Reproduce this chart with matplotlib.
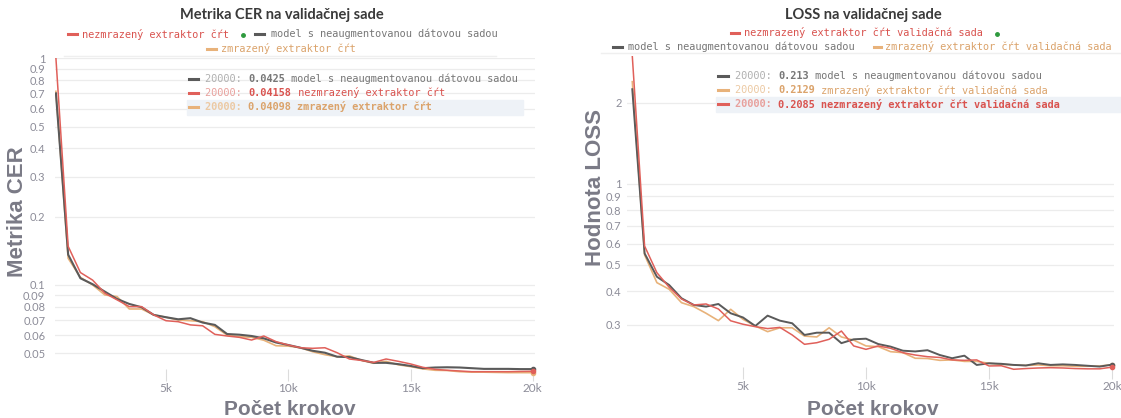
import numpy as np
import matplotlib
matplotlib.use("Agg")
import matplotlib.pyplot as plt
from matplotlib.lines import Line2D
from matplotlib.patches import Rectangle

W, H = 1121, 418

# training steps (logged every 500 steps)
steps = list(range(500, 20001, 500))

# CER on validation set
cer_red = [1.0, 0.148, 0.1134, 0.105, 0.0919, 0.0859, 0.0802, 0.0802, 0.0737, 0.0695,
           0.0688, 0.0666, 0.066, 0.0605, 0.0595, 0.0587, 0.0571, 0.0595, 0.0562, 0.0543,
           0.0528, 0.0525, 0.0528, 0.0502, 0.0471, 0.0464, 0.0455, 0.0471, 0.046, 0.0448,
           0.0433, 0.0424, 0.042, 0.0417, 0.0414, 0.0414, 0.0414, 0.0414, 0.0415, 0.04158]
cer_grey = [0.70, 0.136, 0.107, 0.1007, 0.0934, 0.0867, 0.0824, 0.0797, 0.0737, 0.072,
            0.0705, 0.0713, 0.0682, 0.0666, 0.0607, 0.0603, 0.0595, 0.0581, 0.0557, 0.0543,
            0.0528, 0.0512, 0.0502, 0.0482, 0.048, 0.0466, 0.0453, 0.0453, 0.0447, 0.0439,
            0.0429, 0.0432, 0.0433, 0.0432, 0.0429, 0.0426, 0.0426, 0.0426, 0.0425, 0.0425]
cer_orange = [0.715, 0.131, 0.108, 0.1, 0.0903, 0.0888, 0.0783, 0.0783, 0.0737, 0.072,
              0.07, 0.0695, 0.0688, 0.0654, 0.06, 0.0591, 0.0587, 0.057, 0.0539, 0.0537,
              0.0528, 0.0507, 0.0492, 0.0482, 0.0486, 0.0464, 0.0451, 0.046, 0.0444, 0.0436,
              0.0426, 0.042, 0.0419, 0.0414, 0.0412, 0.0412, 0.0411, 0.041, 0.041, 0.04098]

# LOSS on validation set
loss_red = [2.99, 0.588, 0.468, 0.413, 0.3736, 0.355, 0.358, 0.343, 0.31, 0.301,
            0.2948, 0.29, 0.293, 0.2746, 0.2535, 0.257, 0.2646, 0.284, 0.25, 0.2428,
            0.25, 0.245, 0.236, 0.2313, 0.228, 0.2265, 0.2218, 0.221, 0.2218, 0.2106,
            0.211, 0.2047, 0.206, 0.207, 0.2075, 0.207, 0.206, 0.2055, 0.2055, 0.2085]
loss_grey = [2.25, 0.552, 0.452, 0.421, 0.376, 0.355, 0.35, 0.358, 0.3306, 0.319,
             0.2965, 0.324, 0.3104, 0.3035, 0.2746, 0.28, 0.28, 0.256, 0.2646, 0.266,
             0.254, 0.2485, 0.24, 0.2385, 0.241, 0.2313, 0.225, 0.23, 0.2124, 0.2155,
             0.2145, 0.2125, 0.2115, 0.2155, 0.2125, 0.2135, 0.2125, 0.211, 0.2095, 0.213]
loss_orange = [2.4, 0.545, 0.4297, 0.406, 0.362, 0.35, 0.3306, 0.3104, 0.342, 0.314,
               0.2965, 0.2825, 0.292, 0.292, 0.272, 0.27, 0.292, 0.27, 0.2627, 0.25,
               0.2485, 0.238, 0.236, 0.225, 0.2245, 0.221, 0.2218, 0.219, 0.219, 0.2155,
               0.2135, 0.2125, 0.2115, 0.2125, 0.211, 0.211, 0.21, 0.21, 0.2105, 0.2129]

xticks = [5000, 10000, 15000, 20000]
xtick_labels = ["5k", "10k", "15k", "20k"]
cer_yticks = [0.05, 0.06, 0.07, 0.08, 0.09, 0.1, 0.2, 0.3, 0.4, 0.5, 0.6, 0.7, 0.8, 0.9, 1]
cer_ylabels = ["0.05", "0.06", "0.07", "0.08", "0.09", "0.1", "0.2", "0.3", "0.4", "0.5",
               "0.6", "0.7", "0.8", "0.9", "1"]
loss_yticks = [0.3, 0.4, 0.5, 0.6, 0.7, 0.8, 0.9, 1, 2]
loss_ylabels = ["0.3", "0.4", "0.5", "0.6", "0.7", "0.8", "0.9", "1", "2"]

RED, GREY, ORANGE = "#e0605a", "#5a5a5a", "#e8b27a"
RED_T, GREY_T, ORANGE_T = "#d9534f", "#777777", "#dba36b"
TICK_C, LABEL_C = "#8c8c98", "#7a7a86"

fig = plt.figure(figsize=(W / 100, H / 100), dpi=100)


def fx(px):
    return px / W


def fy(py):
    return 1 - py / H


def make_ax(l, t, r, b):
    ax = fig.add_axes([fx(l), fy(b), fx(r) - fx(l), fy(t) - fy(b)])
    ax.set_facecolor("none")
    return ax


def style(ax, yt, yl, ylim, xlim, pad):
    ax.set_yscale("log")
    ax.set_ylim(*ylim)
    ax.set_xlim(*xlim)
    ax.set_yticks(yt)
    ax.set_yticklabels(yl)
    ax.minorticks_off()
    ax.set_xticks(xticks)
    ax.set_xticklabels(xtick_labels)
    for s in ax.spines.values():
        s.set_visible(False)
    ax.grid(axis="y", color="#ececec", lw=0.9)
    ax.set_axisbelow(True)
    ax.tick_params(axis="y", length=0, pad=pad, labelsize=8, labelcolor=TICK_C)
    ax.tick_params(axis="x", length=8, direction="inout", color="#dcdcdc",
                   pad=2, labelsize=8.5, labelcolor=TICK_C)
    for lab in ax.get_xticklabels() + ax.get_yticklabels():
        lab.set_family("Lato")


def draw(ax, series):
    for vals, c, lw in series:
        ax.plot(steps, vals, color=c, lw=lw, solid_joinstyle="round")
        ax.plot(steps[-1], vals[-1], "o", color=c, ms=3, clip_on=False)


ax1 = make_ax(55, 58.3, 535, 375)
draw(ax1, [(cer_orange, ORANGE, 1.2), (cer_grey, GREY, 1.5), (cer_red, RED, 1.1)])
style(ax1, cer_yticks, cer_ylabels, (0.04003, 1.0), (462, 20090), 7)

ax2 = make_ax(627, 56, 1114, 373)
draw(ax2, [(loss_orange, ORANGE, 1.2), (loss_grey, GREY, 1.4), (loss_red, RED, 1.1)])
style(ax2, loss_yticks, loss_ylabels, (0.1983, 2.99), (285, 20081), 4)

# titles and axis labels
fig.text(fx(282), fy(15), "Metrika CER na validačnej sade", family="Lato", weight="bold",
         size=10.5, color="#3a3a3a", ha="center", va="center")
fig.text(fx(863), fy(15), "LOSS na validačnej sade", family="Lato", weight="bold",
         size=10.5, color="#3a3a3a", ha="center", va="center")
fig.text(fx(18), fy(212), "Metrika CER", family="Liberation Sans", weight="bold",
         size=16, color=LABEL_C, rotation=90, ha="center", va="center")
fig.text(fx(595), fy(188), "Hodnota LOSS", family="Liberation Sans", weight="bold",
         size=16, color=LABEL_C, rotation=90, ha="center", va="center")
for cx in (290, 873):
    fig.text(fx(cx), fy(415), "Počet krokov", family="Liberation Sans", weight="bold",
             size=15, color=LABEL_C, ha="center", va="baseline")

MONO = 7.4
ADV = 0.602 * MONO * 100 / 72


def dash(x0, x1, y, c):
    fig.add_artist(Line2D([fx(x0), fx(x1)], [fy(y), fy(y)], color=c, lw=2.2,
                          transform=fig.transFigure, zorder=6))


def mono(x, y, parts):
    cx = x
    for s, c, bold in parts:
        fig.text(fx(cx), fy(y), s, family="DejaVu Sans Mono", size=MONO, color=c,
                 weight="bold" if bold else "normal", ha="left", va="center", zorder=6)
        cx += len(s) * ADV
    return cx


def dot(x, y):
    fig.add_artist(Line2D([fx(x)], [fy(y)], marker="o", ms=2.5, color="#2e9a3e",
                          transform=fig.transFigure, zorder=6))


def hline(x0, x1, y):
    fig.add_artist(Line2D([fx(x0), fx(x1)], [fy(y), fy(y)], color="#efefef", lw=1,
                          transform=fig.transFigure, zorder=1))


def box(x0, y0, x1, y1):
    fig.add_artist(Rectangle((fx(x0), fy(y1)), fx(x1) - fx(x0), fy(y0) - fy(y1),
                             color="#eef2f7", transform=fig.transFigure, zorder=5))


# legend - left
dash(68, 77, 34, RED)
mono(82, 34, [("nezmrazený extraktor čŕt", RED_T, False)])
dot(243, 35)
dash(255, 264, 34, GREY)
mono(271, 34, [("model s neaugmentovanou dátovou sadou", GREY_T, False)])
dash(207, 216, 49, ORANGE)
mono(221, 49, [("zmrazený extraktor čŕt", ORANGE_T, False)])
hline(64, 496, 56)

# hover box - left
box(187, 100, 523, 115)
rows_l = [
    (79, GREY, [("20000: ", "#b0b0b0", False), ("0.0425", GREY_T, True),
                (" model s neaugmentovanou dátovou sadou", GREY_T, False)]),
    (93, RED, [("20000: ", "#e8a09c", False), ("0.04158", RED_T, True),
               (" nezmrazený extraktor čŕt", RED_T, False)]),
    (107, ORANGE, [("20000: ", "#ecc9a3", True), ("0.04098 zmrazený extraktor čŕt", ORANGE_T, True)]),
]
for y, c, parts in rows_l:
    dash(189, 198, y, c)
    mono(205, y, parts)

# legend - right
dash(731, 739, 33, RED)
mono(744, 33, [("nezmrazený extraktor čŕt validačná sada", RED_T, False)])
dot(997, 34)
dash(613, 622, 47, GREY)
mono(628, 47, [("model s neaugmentovanou dátovou sadou", GREY_T, False)])
dash(874, 881, 47, ORANGE)
mono(885, 47, [("zmrazený extraktor čŕt validačná sada", ORANGE_T, False)])
hline(601, 1121, 53)

# hover box - right
box(716, 97, 1121, 112)
rows_r = [
    (76, GREY, [("20000: ", "#b0b0b0", False), ("0.213", GREY_T, True),
                (" model s neaugmentovanou dátovou sadou", GREY_T, False)]),
    (90, ORANGE, [("20000: ", "#ecc9a3", False), ("0.2129", ORANGE_T, True),
                  (" zmrazený extraktor čŕt validačná sada", ORANGE_T, False)]),
    (104, RED, [("20000: ", "#e8a09c", True),
                ("0.2085 nezmrazený extraktor čŕt validačná sada", RED_T, True)]),
]
for y, c, parts in rows_r:
    dash(718, 728, y, c)
    mono(735, y, parts)

fig.savefig("out.png", dpi=100, facecolor="white")
